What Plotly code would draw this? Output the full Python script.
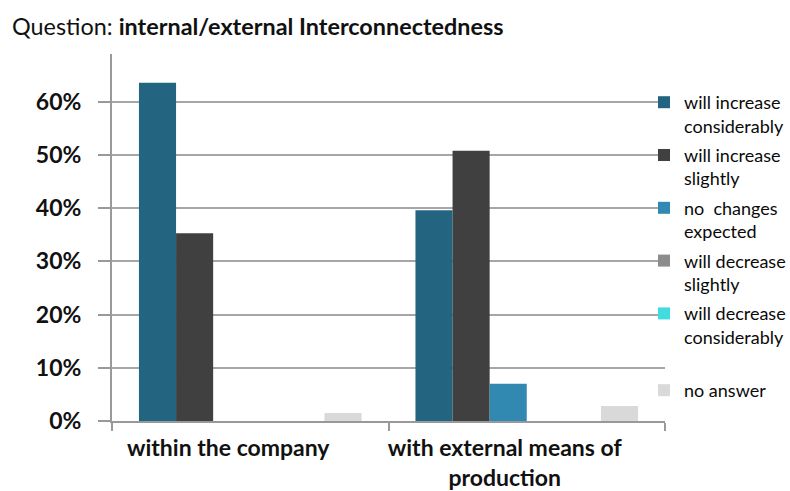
import plotly.graph_objects as go

categories = ["within the company", "with external means of<br>production"]
series_names = [
    "will increase<br>considerably",
    "will increase<br>slightly",
    "no  changes<br>expected",
    "will decrease<br>slightly",
    "will decrease<br>considerably",
    "no answer",
]
series_values = [
    [0.636, 0.396],
    [0.353, 0.508],
    [0.0, 0.070],
    [0.0, 0.0],
    [0.0, 0.0],
    [0.015, 0.028],
]
series_colors = ["#236480", "#404040", "#3188B0", "#8C8C8C", "#40DCE0", "#D9D9D9"]
y_ticks = [0, 0.1, 0.2, 0.3, 0.4, 0.5, 0.6]
y_tick_labels = ["0%", "10%", "20%", "30%", "40%", "50%", "60%"]

fig = go.Figure()
for i, (name, vals, col) in enumerate(zip(series_names, series_values, series_colors)):
    fig.add_trace(go.Bar(
        x=categories, y=vals, name=name, marker_color=col,
        marker_line_width=0, legendgroup=f"g{i}",
        legend="legend2" if i == len(series_names) - 1 else "legend",
    ))

FONT = "Lato"
PLOT_H = 491 - 54 - 70
fig.update_layout(
    width=790, height=491,
    margin=dict(l=112, r=125, t=54, b=70, autoexpand=False),
    plot_bgcolor="white", paper_bgcolor="white",
    barmode="group", bargap=0.195, bargroupgap=0,
    font=dict(family=FONT, color="#111111"),
    legend=dict(
        x=0.962, y=1 - (103 - 54 - 19) / PLOT_H, xanchor="left", yanchor="top",
        font=dict(size=18, family=FONT, color="#0A0A0A"),
        valign="top", tracegroupgap=3,
        bgcolor="rgba(0,0,0,0)",
    ),
    legend2=dict(
        x=0.962, y=1 - (391 - 54 - 19) / PLOT_H, xanchor="left", yanchor="top",
        font=dict(size=18, family=FONT, color="#0A0A0A"),
        valign="top", bgcolor="rgba(0,0,0,0)",
    ),
    title=dict(
        text="Question: <b>internal/external Interconnectedness</b>",
        x=12 / 790, xanchor="left", y=1 - 27 / 491, yanchor="middle",
        font=dict(size=23.4, family=FONT, color="#111111"),
    ),
)
fig.update_yaxes(
    range=[0, 0.69], tickvals=y_ticks, ticktext=y_tick_labels,
    showgrid=True, gridcolor="#A6A6A6", gridwidth=2,
    showline=True, linecolor="#999999", linewidth=2,
    ticks="outside", ticklen=12, tickcolor="#999999", tickwidth=2,
    tickfont=dict(size=23, family=FONT, color="#111111", weight="bold"),
    ticklabelstandoff=12, zeroline=False, automargin=False,
)
fig.update_xaxes(
    showline=True, linecolor="#999999", linewidth=2,
    ticks="outside", ticklen=8, tickcolor="#999999", tickwidth=2,
    tickson="boundaries", automargin=False,
    tickfont=dict(size=23, family=FONT, color="#111111", weight="bold"),
    ticklabelstandoff=5, ticklabelshift=-22,
)
fig.write_html("out.html")
